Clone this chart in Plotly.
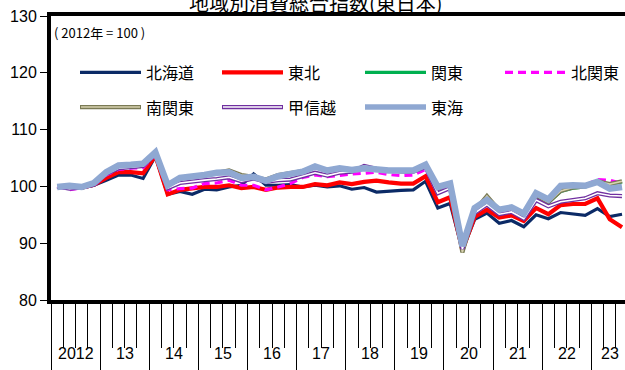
import plotly.graph_objects as go

# Quarterly index, 2012Q1 .. 2023Q3 (2012 = 100)
years = ["2012", "13", "14", "15", "16", "17", "18", "19", "20", "21", "22", "23"]
quarters_per_year = 4

hokkaido = [99.9, 100.0, 99.7, 100.2, 101.1, 102.0, 102.0, 101.4, 105.3, 98.6, 99.1, 98.6,
            99.5, 99.4, 99.9, 100.2, 102.2, 100.2, 100.2, 100.3, 99.9, 100.2, 99.9, 100.1,
            99.5, 99.8, 99.0, 99.2, 99.3, 99.4, 100.9, 96.2, 97.0, 88.8, 94.2, 95.3,
            93.5, 94.0, 92.9, 95.0, 94.3, 95.4, 95.1, 94.9, 96.1, 94.7, 95.1]
tohoku = [100.0, 100.1, 99.8, 100.3, 101.5, 102.5, 102.5, 102.3, 105.4, 98.6, 99.4, 99.7,
          99.9, 99.9, 100.2, 99.7, 99.9, 99.4, 99.8, 99.9, 99.9, 100.4, 100.2, 100.7,
          100.4, 100.8, 101.0, 100.7, 100.5, 100.5, 101.8, 97.2, 98.1, 88.8, 94.6, 95.9,
          94.5, 94.9, 93.9, 96.2, 95.1, 96.7, 96.9, 96.9, 97.9, 94.2, 92.8]
kanto = [100.0, 99.9, 99.9, 100.4, 102.3, 103.5, 103.6, 103.8, 105.8, 100.0, 101.3, 101.6,
         102.0, 102.3, 102.7, 101.9, 101.6, 101.1, 101.9, 102.3, 102.6, 103.3, 102.8, 103.1,
         102.9, 103.1, 102.9, 102.7, 102.6, 102.6, 103.6, 99.5, 100.3, 88.5, 95.6, 98.2,
         95.7, 96.1, 95.0, 98.3, 97.1, 99.1, 99.7, 99.9, 100.8, 100.3, 100.8]
kita_kanto = [100.0, 99.4, 99.8, 100.2, 102.0, 103.0, 103.2, 103.3, 105.6, 99.4, 99.6, 99.7,
              100.5, 100.6, 101.1, 100.2, 100.2, 99.4, 99.9, 100.5, 101.6, 102.0, 101.7, 102.0,
              102.2, 102.3, 102.5, 102.1, 101.9, 102.0, 103.0, 99.1, 99.8, 88.8, 95.9, 96.8,
              95.6, 95.9, 94.7, 97.9, 97.3, 99.7, 99.9, 100.2, 101.2, 101.1, 100.5]
minami_kanto = [100.0, 99.9, 99.9, 100.5, 102.4, 103.6, 103.7, 103.9, 105.9, 100.1, 101.4, 101.7,
                102.1, 102.4, 102.8, 102.0, 101.7, 101.2, 102.0, 102.4, 102.7, 103.4, 102.9, 103.2,
                103.0, 103.2, 103.0, 102.8, 102.7, 102.7, 103.7, 99.6, 100.4, 88.4, 95.7, 98.3,
                95.8, 96.2, 95.1, 98.4, 97.2, 99.2, 99.8, 100.0, 100.9, 100.4, 100.9]
koshinetsu = [100.0, 99.6, 99.8, 100.3, 102.2, 103.2, 103.4, 103.6, 105.7, 99.7, 100.6, 100.9,
              101.1, 101.3, 101.6, 100.9, 101.4, 100.8, 101.1, 101.2, 101.8, 102.4, 101.9, 102.4,
              102.6, 103.6, 103.1, 102.8, 102.7, 102.6, 103.4, 98.8, 99.7, 89.0, 95.3, 96.8,
              95.1, 95.5, 94.3, 97.6, 96.5, 97.3, 97.6, 97.9, 98.8, 98.4, 98.3]
tokai = [99.9, 100.1, 99.9, 100.6, 102.5, 103.7, 103.8, 104.0, 106.0, 100.2, 101.5, 101.7,
         102.0, 102.4, 102.5, 101.5, 101.7, 101.0, 101.8, 102.2, 102.6, 103.5, 102.8, 103.2,
         102.9, 103.2, 102.9, 102.8, 102.8, 102.8, 103.8, 99.9, 100.5, 89.5, 96.2, 97.6,
         95.9, 96.3, 95.2, 98.8, 97.7, 100.1, 100.2, 100.1, 100.8, 99.6, 99.9]

x = list(range(len(tokai)))

# pixel geometry of the plotting area
W, H = 625, 370
L, T, B = 51, 16, 303
PW, PH = W - L, B - T
Q_PX = 12.28  # width of one quarter
x_max = -0.5 + PW / Q_PX

NUM_FONT = "Liberation Sans, Arial, sans-serif"
JP_FONT = "Noto Sans CJK JP, sans-serif"


def px(xp):
    return (xp - L) / PW


def py(yp):
    return (B - yp) / PH


# name, values, colour, width, dash, inner (white/light core for double lines)
series = [
    ("北海道", hokkaido, "#0B2A66", 3.2, "solid", None),
    ("東北", tohoku, "#FF0000", 4.2, "solid", None),
    ("関東", kanto, "#00B050", 3.2, "solid", None),
    ("北関東", kita_kanto, "#FF00FF", 3.2, "8px,5px", None),
    ("南関東", minami_kanto, "#7A7A55", 4.2, "solid", "#D8D3B0"),
    ("甲信越", koshinetsu, "#7030A0", 4.2, "solid", "#FFFFFF"),
    ("東海", tokai, "#8FA8D2", 6.5, "solid", None),
]

fig = go.Figure()
for name, vals, color, width, dash, inner in series:
    fig.add_trace(go.Scatter(x=x, y=vals, mode="lines", name=name,
                             line=dict(color=color, width=width, dash=dash),
                             showlegend=False))
    if inner:
        fig.add_trace(go.Scatter(x=x, y=vals, mode="lines", name=name,
                                 line=dict(color=inner, width=width - 2.6),
                                 showlegend=False, hoverinfo="skip"))

shapes = []
annotations = []

# legend drawn inside the plot area: two rows, four columns
legend_cols = [80, 222, 365, 505]
legend_rows = [73, 108]
for k, (name, vals, color, width, dash, inner) in enumerate(series):
    r, c = divmod(k, 4)
    x0, y0 = legend_cols[c], legend_rows[r]
    shapes.append(dict(type="line", xref="paper", yref="paper",
                       x0=px(x0), x1=px(x0 + 61), y0=py(y0), y1=py(y0),
                       line=dict(color=color, width=min(width, 5.5), dash=dash)))
    if inner:
        shapes.append(dict(type="line", xref="paper", yref="paper",
                           x0=px(x0 + 1), x1=px(x0 + 60), y0=py(y0), y1=py(y0),
                           line=dict(color=inner, width=width - 2.6)))
    annotations.append(dict(text=name, xref="paper", yref="paper",
                            x=px(x0 + 64), y=py(y0), xanchor="left", yanchor="middle",
                            showarrow=False, font=dict(family=JP_FONT, size=16, color="#000")))

# year labels centred between the long year ticks
n_q = len(tokai)
for j, lab in enumerate(years):
    start = j * quarters_per_year - 0.5
    end = min(start + quarters_per_year, n_q - 0.5)
    annotations.append(dict(text=lab, xref="x", yref="paper", x=(start + end) / 2,
                            y=py(357), xanchor="center", yanchor="middle", showarrow=False,
                            font=dict(family=NUM_FONT, size=16, color="#000")))

annotations.append(dict(text="( 2012年 = 100 )", xref="paper", yref="paper",
                        x=px(52), y=py(33), xanchor="left", yanchor="middle",
                        showarrow=False, font=dict(family=JP_FONT, size=13, color="#000")))
annotations.append(dict(text="地域別消費総合指数(東日本)", xref="paper", yref="paper",
                        x=px(316), y=py(2), xanchor="center", yanchor="middle",
                        showarrow=False, font=dict(family=JP_FONT, size=20, color="#000")))

year_bounds = [j * quarters_per_year - 0.5 for j in range(len(years))]

fig.update_layout(
    width=W, height=H,
    margin=dict(l=L, r=0, t=T, b=H - B, pad=0),
    paper_bgcolor="white", plot_bgcolor="white",
    showlegend=False,
    shapes=shapes, annotations=annotations,
    xaxis=dict(range=[-0.5, x_max], showgrid=False, zeroline=False,
               showline=True, linecolor="black", linewidth=4, mirror=True,
               tickmode="array", tickvals=year_bounds, showticklabels=False,
               ticks="outside", ticklen=70, tickcolor="black", tickwidth=1,
               minor=dict(tick0=-0.5, dtick=1, ticks="outside", ticklen=44,
                          tickcolor="black", tickwidth=1)),
    yaxis=dict(range=[80, 130], dtick=10, showgrid=False, zeroline=False,
               showline=True, linecolor="black", linewidth=4,
               ticks="outside", ticklen=7, tickcolor="black", tickwidth=1,
               tickfont=dict(family=NUM_FONT, size=16, color="#000")),
)

fig.write_html("out.html")
